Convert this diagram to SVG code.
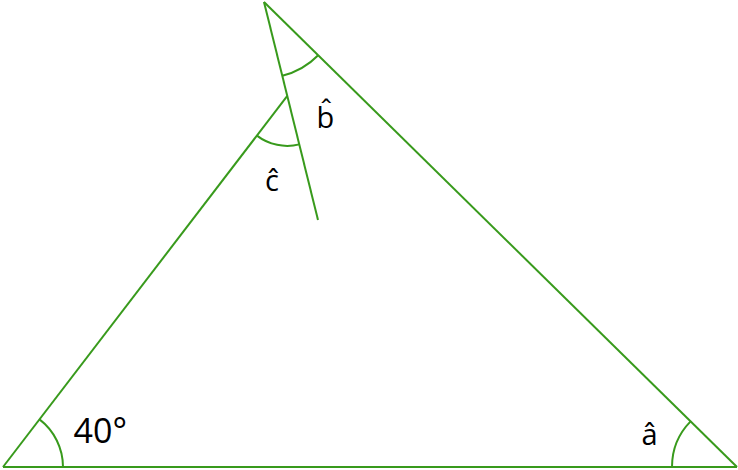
<svg xmlns="http://www.w3.org/2000/svg" width="738" height="470" viewBox="0 0 738 470">
<style>
.ln{stroke:#389a1c;stroke-width:2;fill:none;stroke-linecap:butt}
.lbl{font-family:"Open Sans","Noto Sans","Liberation Sans",sans-serif;fill:#000}
</style>
<rect width="738" height="470" fill="#fff"/>
<g id="connectors">
<line class="ln" x1="3" y1="467" x2="737" y2="467"/>
<line class="ln" x1="3" y1="467" x2="287.3" y2="95.9"/>
<line class="ln" x1="264" y1="2" x2="737" y2="467"/>
<line class="ln" x1="264" y1="2" x2="318" y2="220"/>
</g>
<g id="angle-40">
<path class="ln" d="M63,467 A60,60 0 0 0 39.5,419.4"/>
<text class="lbl" x="73.5" y="443" font-size="34">40°</text>
</g>
<g id="angle-a">
<path class="ln" d="M672,467 A65,65 0 0 1 690.6,421.4"/>
<text class="lbl" x="641.5" y="445" font-size="29">â</text>
</g>
<g id="angle-b">
<path class="ln" d="M318.2,55.3 A76,76 0 0 1 282.3,75.8"/>
<text class="lbl" x="316.5" y="128" font-size="29">b̂</text>
</g>
<g id="angle-c">
<path class="ln" d="M256.9,135.6 A50,50 0 0 0 299.3,144.4"/>
<text class="lbl" x="265" y="191" font-size="29">ĉ</text>
</g>
</svg>
